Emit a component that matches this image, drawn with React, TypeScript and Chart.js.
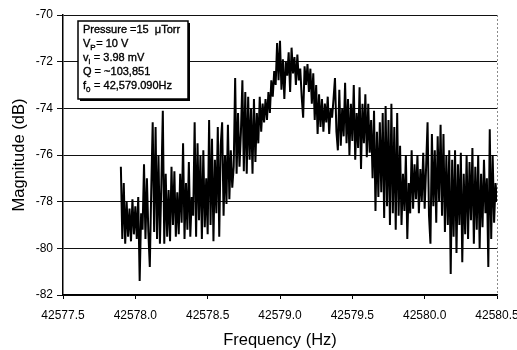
import { useEffect, useRef } from 'react';
import { Chart, registerables } from 'chart.js';

Chart.register(...registerables);

// Sampling grid of the measured spectrum (Hz)
const freqStart = 42577.9;
const freqStep = 0.01;

// Magnitude (dB), one value per frequency sample
const magnitudes: number[] = [
  // 42577.90
  -76.5, -79.6, -77.2, -79.8, -78.0, -79.5, -78.3, -79.7, -77.9, -79.4,
  // 42578.00
  -78.2, -79.6, -77.8, -81.4, -78.5, -79.2, -76.4, -79.6, -77.0, -79.3,
  // 42578.10
  -80.8, -77.5, -74.6, -79.3, -74.8, -79.6, -76.0, -79.8, -77.2, -74.1,
  // 42578.20
  -79.8, -76.8, -79.5, -77.5, -79.7, -76.5, -79.0, -76.7, -79.5, -77.6,
  // 42578.30
  -79.4, -76.8, -78.9, -75.5, -79.6, -77.2, -79.2, -76.3, -79.5, -77.8,
  // 42578.40
  -78.6, -74.6, -79.5, -75.5, -78.8, -76.0, -79.6, -75.8, -79.1, -77.0,
  // 42578.50
  -79.4, -74.5, -79.0, -75.3, -79.7, -76.2, -78.5, -74.8, -79.5, -75.6,
  // 42578.60
  -74.6, -78.6, -76.0, -78.1, -74.7, -77.9, -75.8, -77.4, -76.5, -72.7,
  // 42578.70
  -76.8, -74.2, -76.5, -75.0, -72.8, -76.7, -73.3, -76.8, -73.5, -76.2,
  // 42578.80
  -74.0, -76.8, -73.6, -76.3, -74.2, -75.5, -73.5, -75.0, -73.8, -74.6,
  // 42578.90
  -73.6, -74.5, -73.3, -74.2, -72.8, -73.5, -72.4, -73.0, -71.2, -72.8,
  // 42579.00
  -71.1, -73.2, -71.9, -73.6, -72.0, -72.6, -71.6, -73.3, -71.4, -72.5,
  // 42579.10
  -71.8, -73.0, -71.7, -72.8, -72.3, -73.5, -74.4, -72.2, -73.0, -72.1,
  // 42579.20
  -73.3, -72.3, -73.8, -72.5, -74.5, -73.0, -75.1, -73.4, -74.8, -73.6,
  // 42579.30
  -75.0, -73.8, -74.6, -73.5, -75.1, -74.0, -74.4, -73.6, -72.7, -75.0,
  // 42579.40
  -75.8, -73.2, -75.6, -74.0, -75.2, -72.9, -75.5, -73.6, -76.0, -73.8,
  // 42579.50
  -75.4, -73.0, -76.2, -74.2, -75.7, -73.1, -76.6, -73.8, -75.5, -73.4,
  // 42579.60
  -76.1, -73.8, -75.9, -74.5, -77.0, -74.1, -78.4, -75.0, -77.8, -74.6,
  // 42579.70
  -77.6, -74.2, -78.7, -73.9, -78.2, -74.5, -79.0, -73.8, -78.5, -74.8,
  // 42579.80
  -79.2, -74.2, -78.6, -75.6, -79.0, -76.8, -78.4, -76.0, -79.6, -77.2,
  // 42579.90
  -78.5, -75.8, -78.3, -76.4, -77.9, -76.0, -78.5, -76.6, -78.0, -75.9,
  // 42580.00
  -78.3, -76.5, -74.6, -78.6, -79.8, -75.1, -78.2, -75.8, -78.9, -75.2,
  // 42580.10
  -78.0, -74.7, -78.6, -75.1, -79.3, -76.0, -79.0, -75.8, -81.1, -76.2,
  // 42580.20
  -79.5, -75.8, -80.2, -76.4, -79.0, -75.9, -80.6, -76.8, -79.4, -76.0,
  // 42580.30
  -79.6, -76.3, -78.8, -75.7, -79.8, -76.5, -79.2, -76.0, -80.0, -76.8,
  // 42580.40 .. 42580.50
  -79.1, -76.2, -78.5, -77.0, -80.8, -74.9, -79.6, -76.0, -78.9, -77.2, -78.0,
];

const xMin = 42577.5;
const xMax = 42580.5;
const xStep = 0.5;
const xTickLabels = ['42577.5', '42578.0', '42578.5', '42579.0', '42579.5', '42580.0', '42580.5'];

const yMin = -82;
const yMax = -70;
const yStep = 2;
const yTickLabels = ['-82', '-80', '-78', '-76', '-74', '-72', '-70'];

const xTitle = 'Frequency (Hz)';
const yTitle = 'Magnitude (dB)';

// Info box: each line is a list of [text, isSubscript]
const infoLines: [string, boolean][][] = [
  [['Pressure =15  \u03BCTorr', false]],
  [['V', false], ['P', true], ['= 10 V', false]],
  [['v', false], ['i', true], [' = 3.98 mV', false]],
  [['Q = ~103,851', false]],
  [['f', false], ['0', true], [' = 42,579.090Hz', false]],
];

const FONT = '"Liberation Sans", Arial, Helvetica, sans-serif';

export default function App() {
  const ref = useRef<HTMLCanvasElement>(null);

  useEffect(() => {
    document.body.style.margin = '0';
    const points = magnitudes.map((y, i) => ({
      x: Math.round((freqStart + i * freqStep) * 100) / 100,
      y,
    }));

    const infoBox = {
      id: 'infoBox',
      afterDatasetsDraw(chart: any) {
        const { ctx, chartArea } = chart;
        const bx = chartArea.left + 15;
        const by = chartArea.top + 6;
        const bw = 110;
        const bh = 78;
        ctx.save();
        ctx.fillStyle = '#000';
        ctx.fillRect(bx + 2, by + 2, bw, bh);
        ctx.fillStyle = '#fff';
        ctx.fillRect(bx, by, bw, bh);
        ctx.strokeStyle = '#000';
        ctx.lineWidth = 1.5;
        ctx.strokeRect(bx, by, bw, bh);
        ctx.fillStyle = '#000';
        ctx.strokeStyle = '#000';
        ctx.lineWidth = 0.35;
        ctx.textBaseline = 'alphabetic';
        ctx.textAlign = 'left';
        infoLines.forEach((segs, li) => {
          let x = bx + 5;
          const baseY = by + 12 + li * 14;
          segs.forEach(([txt, sub]) => {
            ctx.font = sub ? `8px ${FONT}` : `11px ${FONT}`;
            const ty = sub ? baseY + 3 : baseY;
            ctx.fillText(txt, x, ty);
            ctx.strokeText(txt, x, ty);
            x += ctx.measureText(txt).width + (sub ? 0.5 : 0);
          });
        });
        ctx.restore();
      },
    };

    const rightEdge = {
      id: 'rightEdge',
      afterDraw(chart: any) {
        const { ctx, chartArea } = chart;
        ctx.save();
        ctx.strokeStyle = '#8a8a8a';
        ctx.lineWidth = 1;
        ctx.setLineDash([2, 2]);
        ctx.beginPath();
        ctx.moveTo(chartArea.right + 0.5, chartArea.top);
        ctx.lineTo(chartArea.right + 0.5, chartArea.bottom);
        ctx.stroke();
        ctx.restore();
      },
    };

    const chart = new Chart(ref.current as HTMLCanvasElement, {
      type: 'line',
      data: {
        datasets: [
          {
            data: points,
            borderColor: '#000',
            borderWidth: 2,
            pointRadius: 0,
            tension: 0,
            borderJoinStyle: 'bevel',
            fill: false,
          },
        ],
      },
      options: {
        animation: false,
        responsive: false,
        events: [],
        layout: { autoPadding: false, padding: { left: 0, right: 20, top: 15, bottom: 0 } },
        plugins: { legend: { display: false }, tooltip: { enabled: false } },
        scales: {
          x: {
            type: 'linear',
            min: xMin,
            max: xMax,
            afterFit: (s: any) => {
              s.height = 55;
              s.paddingLeft = 0;
              s.paddingRight = 0;
            },
            ticks: {
              stepSize: xStep,
              color: '#000',
              font: { family: FONT, size: 12 },
              padding: 9,
              maxRotation: 0,
              autoSkip: false,
              callback: (v: any) => xTickLabels[Math.round((Number(v) - xMin) / xStep)] ?? '',
            },
            grid: { drawOnChartArea: false, drawTicks: true, tickLength: 4, color: '#000', lineWidth: 1 },
            border: { display: true, color: '#000', width: 1.5 },
            title: {
              display: true,
              text: xTitle,
              color: '#000',
              font: { family: FONT, size: 16.5 },
              padding: { top: 0, bottom: 0 },
            },
          },
          y: {
            type: 'linear',
            min: yMin,
            max: yMax,
            afterFit: (s: any) => {
              s.width = 63;
              s.paddingTop = 0;
              s.paddingBottom = 0;
            },
            ticks: {
              stepSize: yStep,
              color: '#000',
              font: { family: FONT, size: 12 },
              padding: 4,
              callback: (v: any) => yTickLabels[Math.round((Number(v) - yMin) / yStep)] ?? '',
            },
            grid: { drawOnChartArea: true, drawTicks: true, tickLength: 6, color: '#111', lineWidth: 1 },
            border: { display: true, color: '#000', width: 1.5 },
            title: {
              display: true,
              text: yTitle,
              color: '#000',
              font: { family: FONT, size: 16.5 },
              padding: { top: 10, bottom: 0 },
            },
          },
        },
      },
      plugins: [infoBox, rightEdge],
    });

    return () => chart.destroy();
  }, []);

  return (
    <div style={{ width: 517, height: 350 }}>
      <canvas ref={ref} width={517} height={350} style={{ display: 'block' }} />
    </div>
  );
}
